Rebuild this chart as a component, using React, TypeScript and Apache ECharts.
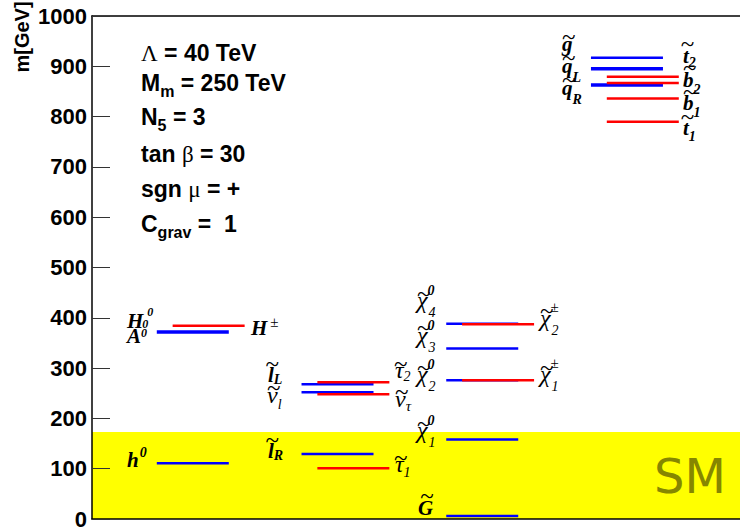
import React, { useEffect, useRef } from "react";
import * as echarts from "echarts";

// ---- data (masses in GeV) ----
const higgsBlueNames = ["h0", "A0"];
const higgsBlue = [111, 372];
const higgsRedNames = ["H±"];
const higgsRed = [384];
const sleptonBlueNames = ["lL", "νl", "lR"];
const sleptonBlue = [268, 252, 129];
const sleptonRedNames = ["τ2", "ντ", "τ1"];
const sleptonRed = [272, 248, 101];
const gauginoBlueNames = ["χ04", "χ03", "χ02", "χ01", "G"];
const gauginoBlue = [388, 339, 276, 158, 6];
const gauginoRedNames = ["χ±2", "χ±1"];
const gauginoRed = [387, 276];
const squarkBlueNames = ["g", "qL", "qR"];
const squarkBlue = [917, 895, 863];
const squarkRedNames = ["t2", "b2", "b1", "t1"];
const squarkRed = [879, 867, 836, 790];
const smMassTop = 173;
const yMin = 0;
const yMax = 1000;
const yInterval = 100;
const yTitle = "m[GeV]";

const paramLines: [string, string][][] = [
  [["g", "Λ"], ["n", " = 40 TeV"]],
  [["n", "M"], ["s", "m"], ["n", " = 250 TeV"]],
  [["n", "N"], ["s", "5"], ["n", " = 3"]],
  [["n", "tan "], ["g", "β"], ["n", " = 30"]],
  [["n", "sgn "], ["g", "μ"], ["n", " = +"]],
  [["n", "C"], ["s", "grav"], ["n", " =  1"]],
];

// ---- layout / style ----
const THICK = new Set(["A0", "qL", "qR"]);
const COL_STEP = 2.01;
const BLUE_START = 0.9;
const RED_START = 1.12;
const LINE_LEN = 1.0;
const BLUE = "#0000ff";
const RED = "#ff0000";
const SERIF = "'Liberation Serif', 'Times New Roman', serif";
const SANS = "'Liberation Sans', Arial, sans-serif";

type Lab = {
  m: string; sub?: string; sup?: string; tilde?: boolean; small?: boolean;
  x: number; y: number; subDy?: number; supDy?: number; subDx?: number; supDx?: number;
};
const labels: Lab[] = [
  { m: "H", sub: "0", sup: "0", small: true, x: 0.486, y: 380, subDy: 0, supDy: -12, supDx: 4, subDx: -1 },
  { m: "A", sup: "0", small: true, x: 0.486, y: 350, supDy: -6 },
  { m: "H", sup: "±", x: 2.208, y: 366, supDy: -8, supDx: 3 },
  { m: "h", sup: "0", x: 0.486, y: 103, supDy: -10, supDx: 1 },
  { m: "l", tilde: true, sub: "L", x: 2.444, y: 272, subDy: 2 },
  { m: "ν", tilde: true, sub: "l", x: 2.431, y: 231, subDy: 6 },
  { m: "l", tilde: true, sub: "R", x: 2.444, y: 121, subDy: 2 },
  { m: "τ", tilde: true, sub: "2", x: 4.208, y: 280, subDy: 3 },
  { m: "ν", tilde: true, sub: "τ", x: 4.208, y: 223, subDy: 4 },
  { m: "τ", tilde: true, sub: "1", x: 4.208, y: 93, subDy: 5 },
  { m: "χ", tilde: true, sub: "4", sup: "0", x: 4.514, y: 419 },
  { m: "χ", tilde: true, sub: "3", sup: "0", x: 4.514, y: 350 },
  { m: "χ", tilde: true, sub: "2", sup: "0", x: 4.514, y: 272 },
  { m: "χ", tilde: true, sub: "1", sup: "0", x: 4.514, y: 161 },
  { m: "G", tilde: true, x: 4.528, y: 8 },
  { m: "χ", tilde: true, sub: "2", sup: "±", x: 6.222, y: 384, supDy: -14 },
  { m: "χ", tilde: true, sub: "1", sup: "±", x: 6.222, y: 272, supDy: -14 },
  { m: "g", tilde: true, x: 6.528, y: 930 },
  { m: "q", tilde: true, sub: "L", x: 6.528, y: 887, subDy: 9 },
  { m: "q", tilde: true, sub: "R", x: 6.528, y: 843, subDy: 9 },
  { m: "t", tilde: true, sub: "2", x: 8.208, y: 907, subDy: 4 },
  { m: "b", tilde: true, sub: "2", x: 8.208, y: 859, subDy: 7 },
  { m: "b", tilde: true, sub: "1", x: 8.208, y: 813, subDy: 7 },
  { m: "t", tilde: true, sub: "1", x: 8.208, y: 763, subDy: 6 },
];

let measureCtx: CanvasRenderingContext2D | null = null;
function tw(text: string, font: string): number {
  if (!measureCtx) measureCtx = document.createElement("canvas").getContext("2d");
  if (!measureCtx) return text.length * 10;
  measureCtx.font = font;
  return measureCtx.measureText(text).width;
}

function txt(text: string, x: number, midY: number, font: string, fill = "#000", align = "left") {
  return {
    type: "text",
    x,
    y: midY,
    style: { text, font, fill, align, verticalAlign: "middle" },
  };
}

const SERIF_MID = 0.3375;
const SANS_MID = 0.3465;

function labelItem(_params: any, api: any) {
  const L = labels[api.value(2)];
  const p = api.coord([api.value(0), api.value(1)]);
  const greek = /[χτν]/.test(L.m);
  const isChi = L.m === "χ";
  const tall = /[ltbGhHA]/.test(L.m);
  const fs = greek ? 24 : 21;
  const font = `${greek ? "italic" : "italic bold"} ${fs}px ${SERIF}`;
  const w = tw(L.m, font);
  const left = p[0];
  const base = p[1];
  const kids: any[] = [txt(L.m, left, base - SERIF_MID * fs, font)];
  if (L.tilde) {
    const ty = base + (tall ? -19 : -15);
    kids.push(txt("~", left + w / 2 + 1.5, ty, `25px ${SERIF}`, "#000", "center"));
  }
  const sfs = L.small ? 12 : 14;
  if (L.sub) {
    const subGreek = /[τ]/.test(L.sub);
    const sfont = `italic ${!greek && !subGreek ? "bold " : ""}${subGreek ? 15 : sfs}px ${SERIF}`;
    const dy = L.subDy ?? (isChi ? 9 : 3);
    const dx = L.subDx ?? (isChi ? 1 : 0);
    kids.push(txt(L.sub, left + w + dx, base + dy - SERIF_MID * sfs, sfont));
  }
  if (L.sup) {
    const pm = L.sup === "±";
    const sfont = pm ? `15px ${SERIF}` : `italic bold ${sfs}px ${SERIF}`;
    const dy = L.supDy ?? (isChi ? -13 : -9);
    const dx = L.supDx ?? 0;
    kids.push(txt(L.sup, left + w + dx, base + dy - SERIF_MID * sfs, sfont));
  }
  return { type: "group", children: kids };
}

function levelLine(_params: any, api: any) {
  const col = api.value(0);
  const m = api.value(1);
  const w = api.value(2);
  const red = api.value(3) === 1;
  const x0 = col * COL_STEP + (red ? RED_START : BLUE_START);
  const a = api.coord([x0, m]);
  const b = api.coord([x0 + LINE_LEN, m]);
  return {
    type: "line",
    shape: { x1: a[0], y1: a[1], x2: b[0], y2: b[1] },
    style: { stroke: red ? RED : BLUE, lineWidth: w },
  };
}

function band(_params: any, api: any) {
  const p0 = api.coord([0, 0]);
  const p1 = api.coord([9, api.value(0)]);
  return {
    type: "rect",
    shape: { x: p0[0], y: p1[1], width: p1[0] - p0[0], height: p0[1] - p1[1] },
    style: { fill: "#ffff00" },
  };
}

function buildGroupData(groups: [string[], number[]][], red: number) {
  const out: number[][] = [];
  groups.forEach(([names, vals], col) => {
    vals.forEach((v, i) => out.push([col, v, THICK.has(names[i]) ? 3.5 : 2.5, red]));
  });
  return out;
}

function paramGraphics() {
  const els: any[] = [];
  const baselines = [61, 91, 125, 162, 197, 232];
  const fs = 23;
  paramLines.forEach((segs, li) => {
    let x = 141;
    const base = baselines[li];
    segs.forEach(([kind, t]) => {
      let font: string;
      let mid: number;
      if (kind === "g") {
        font = `${fs}px ${SERIF}`;
        mid = base - SERIF_MID * fs;
      } else if (kind === "s") {
        font = `bold 16px ${SANS}`;
        mid = base + 6 - SANS_MID * 16;
      } else {
        font = `bold ${fs}px ${SANS}`;
        mid = base - SANS_MID * fs;
      }
      els.push({ ...txt(t, x, mid, font), z: 100 });
      x += tw(t, font);
    });
  });
  return els;
}

export default function App() {
  const ref = useRef<HTMLDivElement>(null);
  useEffect(() => {
    if (!ref.current) return;
    const chart = echarts.init(ref.current, undefined, { renderer: "svg" });
    const blueData = buildGroupData(
      [
        [higgsBlueNames, higgsBlue],
        [sleptonBlueNames, sleptonBlue],
        [gauginoBlueNames, gauginoBlue],
        [squarkBlueNames, squarkBlue],
      ],
      0
    );
    const redData = buildGroupData(
      [
        [higgsRedNames, higgsRed],
        [sleptonRedNames, sleptonRed],
        [gauginoRedNames, gauginoRed],
        [squarkRedNames, squarkRed],
      ],
      1
    );
    const hiddenX = {
      type: "value",
      min: 0,
      max: 9,
      axisLine: { show: true, onZero: false, lineStyle: { color: "#000", width: 1.5 } },
      axisTick: { show: false },
      axisLabel: { show: false },
      splitLine: { show: false },
      z: 10,
    };
    chart.setOption({
      animation: false,
      backgroundColor: "#fff",
      grid: { left: 92, right: 0, top: 16, bottom: 8, containLabel: false, outerBoundsMode: "none" },
      xAxis: [
        { ...hiddenX, position: "bottom" },
        { ...hiddenX, position: "top" },
      ],
      yAxis: {
        type: "value",
        min: yMin,
        max: yMax,
        interval: yInterval,
        name: yTitle,
        nameLocation: "end",
        nameRotate: 90,
        nameGap: -21,
        nameTextStyle: {
          fontSize: 20,
          fontWeight: "bold",
          fontFamily: "Liberation Sans",
          color: "#000",
          align: "center",
          verticalAlign: "bottom",
          padding: [0, 0, 60, 0],
        },
        axisLine: { show: true, lineStyle: { color: "#000", width: 1.5 } },
        axisTick: { show: true, inside: true, length: 18, lineStyle: { color: "#333", width: 1 } },
        axisLabel: {
          color: "#000",
          fontFamily: "Liberation Sans",
          fontWeight: "bold",
          fontSize: 22,
          margin: 5,
          formatter: (v: number) => String(v),
        },
        splitLine: { show: false },
        z: 10,
      },
      series: [
        { type: "custom", name: "SM", z: 1, silent: true, renderItem: band, data: [[smMassTop]] },
        { type: "custom", name: "blue", z: 3, silent: true, renderItem: levelLine, data: blueData },
        { type: "custom", name: "red", z: 4, silent: true, renderItem: levelLine, data: redData },
        {
          type: "custom",
          name: "labels",
          z: 5,
          silent: true,
          renderItem: labelItem,
          data: labels.map((l, i) => [l.x, l.y, i]),
        },
      ],
      graphic: {
        elements: [
          {
            type: "text",
            x: 654,
            y: 476,
            z: 100,
            style: {
              text: "SM",
              font: "48px 'DejaVu Sans'",
              fill: "#868600",
              align: "left",
              verticalAlign: "middle",
            },
          },
          ...paramGraphics(),
        ],
      },
    });
    return () => chart.dispose();
  }, []);
  return (
    <div
      ref={ref}
      style={{ position: "fixed", left: 0, top: 0, width: 740, height: 527, background: "#fff" }}
    />
  );
}
